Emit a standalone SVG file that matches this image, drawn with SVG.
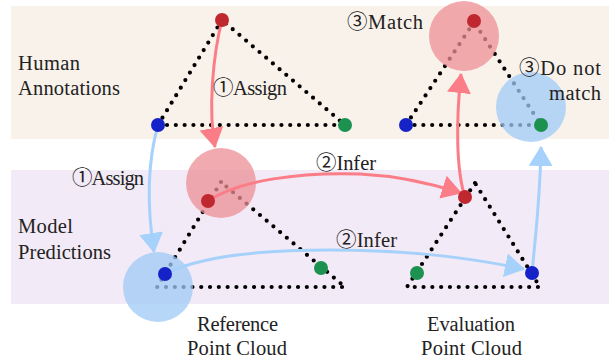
<svg xmlns="http://www.w3.org/2000/svg" width="609" height="360" viewBox="0 0 609 360">
<style>
.tri{fill:none;stroke:#000;stroke-width:4.2;stroke-dasharray:0 8.8;stroke-linecap:round;stroke-linejoin:round}
.rc{fill:#ec8f95;opacity:.75}
.bc{fill:#9fcaf5;opacity:.75}
.ra{fill:none;stroke:#fb7d87;stroke-width:3}
.ba{fill:none;stroke:#a6d1fb;stroke-width:3}
.pr{fill:#c0282f}
.pb{fill:#1422c8}
.pg{fill:#1d9250}
text{font-family:"Liberation Serif","DejaVu Serif","Noto Sans CJK SC",serif;font-size:20.5px;fill:#222}
.m{text-anchor:middle}
.e{text-anchor:end}
</style>
<defs>
<marker id="ahr" markerUnits="userSpaceOnUse" viewBox="0 0 20 24" refX="19" refY="12" markerWidth="20" markerHeight="24" orient="auto"><path d="M0,0 L20,12 L0,24 Z" fill="#fb7d87"/></marker>
<marker id="ahb" markerUnits="userSpaceOnUse" viewBox="0 0 20 24" refX="19" refY="12" markerWidth="20" markerHeight="24" orient="auto"><path d="M0,0 L20,12 L0,24 Z" fill="#a6d1fb"/></marker>
</defs>
<g id="bands">
<rect x="11" y="6" width="598" height="133" fill="#f9f2eb"/>
<rect x="11" y="170" width="598" height="134" fill="#f2eaf6"/>
</g>
<g id="tri-human-ref"><path class="tri" d="M222,20 L158,125 L345,125 Z"/></g>
<g id="tri-human-eval"><path class="tri" d="M474,22 L406,125 L541,125 Z"/></g>
<g id="tri-model-ref"><path class="tri" d="M221,182 L157,287 L345,287 Z"/></g>
<g id="tri-model-eval"><path class="tri" d="M475,183 L407,287 L540,287 Z"/></g>
<g id="circles">
<circle class="rc" cx="221" cy="183" r="35"/>
<circle class="bc" cx="158" cy="287" r="35"/>
<circle class="rc" cx="464" cy="36" r="35"/>
<circle class="bc" cx="531" cy="107" r="35"/>
</g>
<g id="connectors">
<path class="ra" d="M222,20 C213,55 208,110 215,147" marker-end="url(#ahr)"/>
<path class="ba" d="M158,125 C148,160 146,200 154,252" marker-end="url(#ahb)"/>
<path class="ra" d="M208,201 C240,180 300,172 360,174 C400,176 430,183 461,193" marker-end="url(#ahr)"/>
<path class="ba" d="M165,274 C200,256 260,250 330,250 C420,250 480,260 524,269" marker-end="url(#ahb)"/>
<path class="ra" d="M465,197 C456,170 456,120 461,74" marker-end="url(#ahr)"/>
<path class="ba" d="M532,273 C536,230 540,200 541,147" marker-end="url(#ahb)"/>
</g>
<g id="points">
<circle class="pr" cx="222" cy="20" r="7"/>
<circle class="pb" cx="158" cy="125" r="7"/>
<circle class="pg" cx="345" cy="125" r="7"/>
<circle class="pr" cx="474" cy="21" r="7"/>
<circle class="pb" cx="406" cy="125" r="7"/>
<circle class="pg" cx="541" cy="125" r="7"/>
<circle class="pr" cx="208" cy="201" r="7"/>
<circle class="pb" cx="165" cy="274" r="7"/>
<circle class="pg" cx="321" cy="268" r="7"/>
<circle class="pr" cx="465" cy="197" r="7"/>
<circle class="pb" cx="532" cy="273" r="7"/>
<circle class="pg" cx="417" cy="273" r="7"/>
</g>
<g id="labels">
<text x="18" y="70" textLength="62">Human</text>
<text x="18" y="95" textLength="102">Annotations</text>
<text x="18" y="233" textLength="55">Model</text>
<text x="18" y="259" textLength="93">Predictions</text>
<text x="213" y="95" textLength="74">①Assign</text>
<text x="72" y="185" textLength="72">①Assign</text>
<text x="316" y="170" textLength="60">②Infer</text>
<text x="336" y="247" textLength="61">②Infer</text>
<text x="347" y="29" textLength="76">③Match</text>
<text x="519" y="75" textLength="82">③Do not</text>
<text x="549" y="100" textLength="52">match</text>
<text x="197" y="331" textLength="81">Reference</text>
<text x="187" y="355" textLength="100">Point Cloud</text>
<text x="427" y="331" textLength="88">Evaluation</text>
<text x="421" y="355" textLength="101">Point Cloud</text>
</g>
</svg>
